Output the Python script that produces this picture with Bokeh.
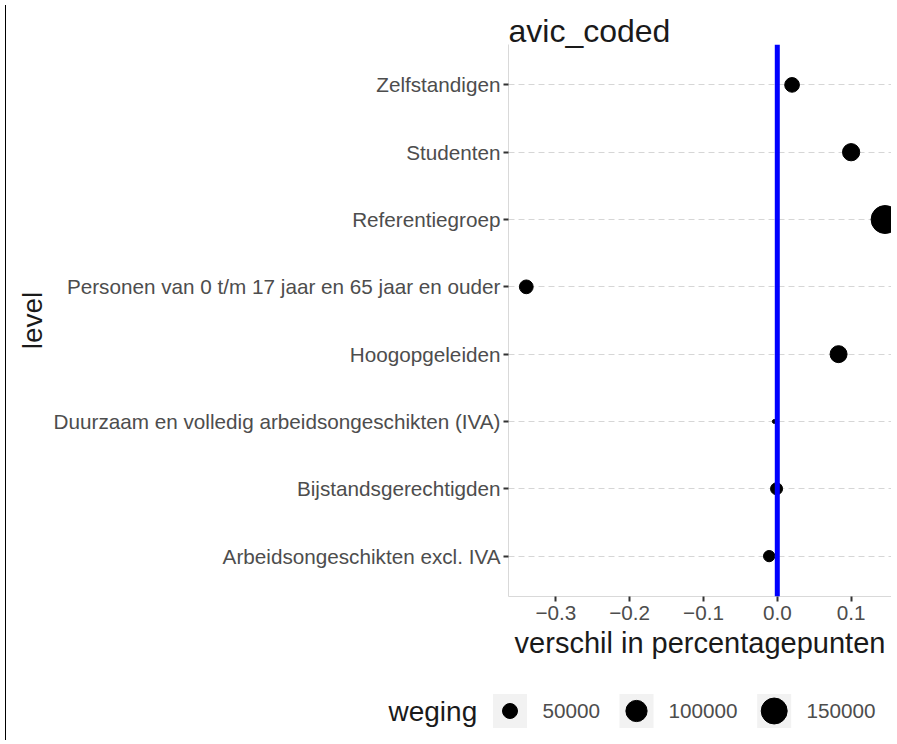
import math
from bokeh.plotting import figure
from bokeh.models import Span, FactorRange, Range1d, Div, FixedTicker, ColumnDataSource
from bokeh.layouts import row, column
from bokeh.embed import file_html
from bokeh.resources import INLINE
from bokeh.core.properties import value

# ---- data ----
levels = [
    "Zelfstandigen",
    "Studenten",
    "Referentiegroep",
    "Personen van 0 t/m 17 jaar en 65 jaar en ouder",
    "Hoogopgeleiden",
    "Duurzaam en volledig arbeidsongeschikten (IVA)",
    "Bijstandsgerechtigden",
    "Arbeidsongeschikten excl. IVA",
]
verschil = [0.020, 0.100, 0.146, -0.340, 0.083, -0.004, -0.001, -0.011]
weging = [48000, 66000, 174000, 42000, 64000, 3500, 32000, 28500]

legend_weights = [50000, 100000, 150000]
legend_labels = ["50000", "100000", "150000"]

x_ticks = [-0.3, -0.2, -0.1, 0.0, 0.1]
x_tick_labels = ["\u22120.3", "\u22120.2", "\u22120.1", "0.0", "0.1"]

# ---- styling ----
FONT = "Liberation Sans"
SIZE_K = 15 / math.sqrt(50000)   # diameter (px) per sqrt(weight)

def size_of(w):
    return SIZE_K * math.sqrt(w)

src = ColumnDataSource(dict(level=levels, verschil=verschil,
                            size=[size_of(w) for w in weging]))

TOTAL_H = 735
MAIN_H = 682
factors = list(reversed(levels))
p = figure(
    width=880, height=MAIN_H,
    y_range=FactorRange(factors=factors, range_padding=0.1, range_padding_units="absolute"),
    x_range=Range1d(-0.3641, 0.1547),
    output_backend="svg", toolbar_location=None,
    title="avic_coded",
    min_border_left=497, min_border_right=0, min_border_top=44, min_border_bottom=86,
)
p.frame_align = False
p.outline_line_color = None
p.background_fill_color = "white"
p.border_fill_color = "white"

p.xgrid.visible = False
p.ygrid.grid_line_color = "#d6d6d6"
p.ygrid.grid_line_dash = "6 4"
p.ygrid.grid_line_width = 1

p.scatter("verschil", "level", size="size", color="black", source=src)

p.add_layout(Span(location=0, dimension="height", line_color="#0000ff", line_width=5))

p.xaxis.ticker = FixedTicker(ticks=x_ticks)
p.xaxis.major_label_overrides = {t: l for t, l in zip(x_ticks, x_tick_labels)}

for ax in (p.xaxis[0], p.yaxis[0]):
    ax.axis_line_color = "#d9d9d9"
    ax.axis_line_width = 1
    ax.major_tick_line_color = "#333333"
    ax.major_tick_line_width = 2
    ax.major_tick_out = 5
    ax.major_tick_in = 0
    ax.minor_tick_line_color = None
    ax.major_label_text_font = FONT
    ax.major_label_text_font_size = "20.7px"
    ax.major_label_text_color = "#4d4d4d"
    ax.major_label_standoff = 3
    ax.axis_label_text_font = FONT
    ax.axis_label_text_font_size = "29px"
    ax.axis_label_text_font_style = "normal"
    ax.axis_label_text_color = "#1a1a1a"

p.xaxis.axis_label = "verschil in percentagepunten"
p.yaxis.axis_label = "level"
p.xaxis.major_label_standoff = 4
p.xaxis.axis_label_standoff = 4
p.yaxis.axis_label_standoff = 3
p.yaxis.axis_label_text_font_size = "28px"

p.title.text_font = FONT
p.title.text_font_size = "32px"
p.title.text_font_style = "normal"
p.title.text_color = "#1a1a1a"
p.title.align = "left"
p.title.offset = 0
p.title.standoff = -8

# ---- legend as its own small figure ----
LW, LH = 880, TOTAL_H - MAIN_H
lf = figure(width=LW, height=LH, x_range=Range1d(0, LW), y_range=Range1d(0, LH),
            output_backend="svg", toolbar_location=None,
            x_axis_location=None, y_axis_location=None, min_border=0)
lf.frame_align = False
lf.outline_line_color = None
lf.xgrid.visible = False
lf.ygrid.visible = False
lf.background_fill_color = "white"
lf.border_fill_color = "white"

ly = LH - 28.5
key_centers = [498.5, 625.0, 762.7]
label_left = [531.0, 657.0, 795.0]
lf.text(x=[377], y=[ly], text=["weging"], text_baseline="middle", text_align="left",
        text_font=value(FONT), text_font_size="28px", text_color="#1a1a1a")
lf.rect(x=key_centers, y=[ly] * 3, width=34, height=34, fill_color="#f2f2f2", line_color=None)
lf.scatter(x=key_centers, y=[ly] * 3, size=[size_of(w) for w in legend_weights], color="black")
lf.text(x=label_left, y=[ly] * 3, text=legend_labels, text_baseline="middle", text_align="left",
        text_font=value(FONT), text_font_size="20.7px", text_color="#4d4d4d")

bar = Div(width=1, height=TOTAL_H, styles={"background-color": "black"})
layout = row(bar, column(p, lf))

open("out.html", "w").write(file_html(layout, INLINE))
